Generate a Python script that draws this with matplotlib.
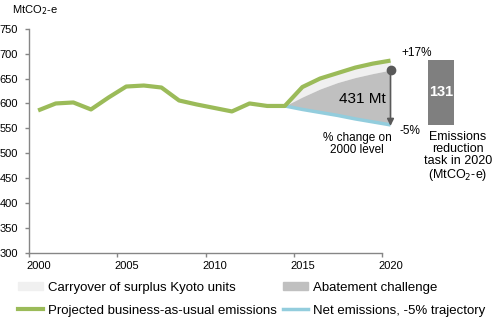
import matplotlib
matplotlib.use("Agg")
import matplotlib.pyplot as plt
import matplotlib.transforms as mtransforms
from matplotlib.patches import Patch
from matplotlib.lines import Line2D

plt.rcParams['font.family'] = ['Liberation Sans', 'DejaVu Sans']

# ---- data ----
years = list(range(2000, 2021))
bau = [586, 600, 602, 588, 612, 634, 636, 632, 606, 598, 591, 584, 600, 595, 595,
       633, 650, 661, 672, 680, 686]
proj_years = list(range(2014, 2021))
abatement_top = [595, 613, 629, 642, 652, 660, 667]
net_traj = [595, 588, 582, 576, 569, 563, 557]
task_value = 131
task_base = 557
xtick_years = [2000, 2005, 2010, 2015, 2020]
yticks = [300, 350, 400, 450, 500, 550, 600, 650, 700, 750]

W, H = 494, 322
fig = plt.figure(figsize=(W / 100, H / 100), dpi=100)
ax = fig.add_axes([29.3 / W, 69 / H, 352.4 / W, 224.3 / H])

GREEN = '#9bbb59'
BLUE = '#93cddd'
GREY = '#c0c0c0'
LIGHT = '#f0f0f0'
DARK = '#595959'
AXC = '#868686'

off = 0.5  # data centred in category
xs = [y + off for y in years]
pxs = [y + off for y in proj_years]

ax.fill_between(pxs, abatement_top, bau[-len(proj_years):], color=LIGHT, lw=0,
                clip_on=False, zorder=1)
ax.fill_between(pxs, net_traj, abatement_top, color=GREY, lw=0, clip_on=False, zorder=2)
ax.plot(pxs, net_traj, color=BLUE, lw=2.5, clip_on=False, zorder=3, solid_capstyle='butt')
ax.plot(xs, bau, color=GREEN, lw=3, clip_on=False, zorder=4, solid_capstyle='butt')

# arrow for % change
x20 = 2020 + off
ax.annotate('', xy=(x20, task_base - 2), xytext=(x20, abatement_top[-1]),
            arrowprops=dict(arrowstyle='-|>', color=DARK, lw=1.2, mutation_scale=10,
                            shrinkA=0, shrinkB=0), annotation_clip=False, zorder=6)
ax.plot([x20], [abatement_top[-1]], 'o', color=DARK, ms=6, clip_on=False, zorder=7)

# task bar
ax.bar([2023.35], [task_value], bottom=[task_base], width=1.5, color='#7f7f7f',
       clip_on=False, zorder=3)
ax.text(2023.35, task_base + task_value / 2, str(task_value), color='white',
        fontsize=10.5, fontweight='bold', ha='center', va='center', zorder=8)

ax.text(2018.9, 608, '431 Mt', fontsize=11, ha='center', va='center', zorder=8)

ax.set_xlim(2000, 2020)
ax.set_ylim(300, 750)
ax.set_xticks(xtick_years)
ax.set_xticklabels([str(y) for y in xtick_years])
ax.set_yticks(yticks)
for s in ['top', 'right']:
    ax.spines[s].set_visible(False)
for s in ['left', 'bottom']:
    ax.spines[s].set_color(AXC)
    ax.spines[s].set_linewidth(1)
ax.tick_params(axis='both', colors=AXC, labelcolor='black', labelsize=8,
               length=3, width=1, direction='out')
ax.tick_params(axis='y', pad=5)
ax.tick_params(axis='x', pad=2.5)
shift = mtransforms.ScaledTranslation(-3 / 100, 0, fig.dpi_scale_trans)
for lbl in ax.get_xticklabels():
    lbl.set_ha('left')
    lbl.set_transform(lbl.get_transform() + shift)

def ftext(px, py, s, **kw):
    fig.text(px / W, 1 - py / H, s, **kw)

ftext(12, 10, 'MtCO$_2$-e', fontsize=8, ha='left', va='center')
ftext(401, 53.5, '+17%', fontsize=8.5, ha='left', va='center')
ftext(399, 131, '-5%', fontsize=8.5, ha='left', va='center')
ftext(357, 144, '% change on\n2000 level', fontsize=8.5, ha='center', va='center',
      linespacing=1.05)
ftext(458, 157, 'Emissions\nreduction\ntask in 2020\n(MtCO$_2$-e)', fontsize=9,
      ha='center', va='center', linespacing=1.0)

handles = [Patch(facecolor=LIGHT, edgecolor=LIGHT),
           Line2D([], [], color=GREEN, lw=3),
           Patch(facecolor=GREY, edgecolor=GREY),
           Line2D([], [], color=BLUE, lw=2.5)]
labels = ['Carryover of surplus Kyoto units', 'Projected business-as-usual emissions',
          'Abatement challenge', 'Net emissions, -5% trajectory']
fig.legend(handles, labels, loc='upper left', bbox_to_anchor=(18 / W, 1 - 281.5 / H),
           ncol=2, frameon=False, fontsize=9.5, handlelength=1.9, handleheight=0.55,
           handletextpad=0.38, columnspacing=0.45, labelspacing=0.85, borderaxespad=0,
           borderpad=0)

fig.savefig('out.png', dpi=100)
